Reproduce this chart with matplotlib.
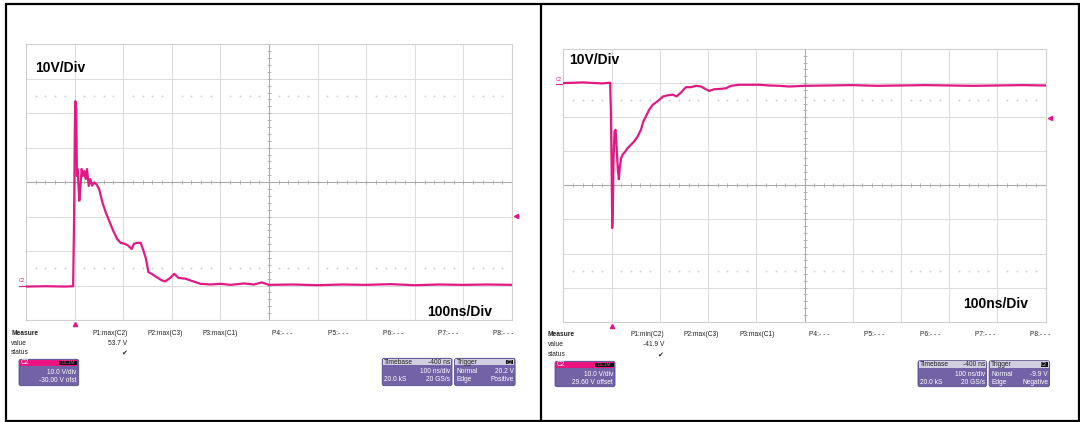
import numpy as np
import matplotlib.pyplot as plt
from matplotlib.patches import FancyBboxPatch, Rectangle
from matplotlib.transforms import blended_transform_factory

plt.rcParams['font.family'] = ['Liberation Sans', 'DejaVu Sans']

# time in ns (trigger at 0), voltage in V
left_t = [-100, -60, -20, -3, -1, 0.5, 1.4, 3.5, 4.8, 6.5, 8.3, 9.7, 11.7, 14.5,
          17.3, 20, 22.8, 25.5, 29, 32.4, 35.9, 40, 44.9, 50.4, 57.3, 64.2, 72.5,
          79.4, 87.6, 94.5, 103.5, 110.4, 117.3, 122, 129, 136, 141.5, 147, 151.8,
          158.7, 169, 179.4, 186.3, 196.7, 205, 214, 227.7, 238, 248.4, 258.8,
          279.5, 300, 321, 348.5, 369, 385, 400, 450, 500, 550, 600, 650, 700,
          750, 800, 850, 900]
left_v = [-0.3, -0.2, -0.3, -0.2, 20, 45, 53.5, 51.1, 31.8, 33.8, 28, 24.6, 28, 33.8,
          31.8, 33.2, 30.9, 33.8, 28.9, 30.9, 29, 29.9, 29.4, 28, 24.1, 21.2, 18.3,
          15.9, 13.5, 12.4, 12.1, 11.6, 10.6, 12.1, 12.4, 12.4, 10.2, 7.7, 3.9,
          3.4, 2.4, 1.5, 1.2, 2.2, 3.4, 2.2, 2.0, 1.5, 1.0, 0.5,
          0.3, 0.5, 0.2, 0.6, 0.3, 0.9, 0.2, 0.3, 0.1, 0.3, 0.2, 0.4, 0.1,
          0.3, 0.2, 0.3, 0.2]

right_t = [-100, -60, -20, -3, -1.4, 0, 0.7, 1.4, 2.8, 4.1, 6.2, 8.3, 10.4, 13.1,
           15.2, 17.3, 20, 22.8, 28.4, 33.2, 40.1, 47, 53.9, 60.9, 65.7, 71.2, 78.1,
           85.1, 92, 98.9, 107.2, 116.2, 126.6, 134.9, 143.8, 154.2, 164.6, 175,
           185.3, 195.7, 202.6, 213, 226.8, 237.2, 247.6, 264.9, 285.6, 306.4,
           327.1, 347.9, 368.6, 400, 450, 500, 550, 600, 650, 700, 750, 800, 850, 900]
right_v = [0.4, 0.6, 0.3, 0.5, -7.4, -22.1, -31.9, -42.1, -35.8, -22.1, -13.8, -13.3,
           -18.2, -25, -27.8, -24.1, -21.6, -20.6, -19.7, -18.7, -17.7, -16.7, -15.3,
           -13.3, -10.9, -9.4, -7.4, -6, -5.3, -4.5, -3.5, -3.2, -3.0, -3.5, -2.4,
           -0.8, -0.8, -0.4, -0.6, -1.4, -1.9, -1.4, -1.3, -1.1, -0.4, -0.1, -0.1,
           -0.1, -0.3, -0.4, -0.6, -0.4, -0.3, -0.2, -0.4, -0.3, -0.2, -0.3, -0.4,
           -0.3, -0.2, -0.3]

# scope settings
volts_div = 10.0
left_offset = -30.0
right_offset = 29.6
left_trig = 20.2
right_trig = -9.9
measure_labels = ['P1:max(C2)', 'P2:max(C3)', 'P3:max(C1)', 'P4:- - -',
                  'P5:- - -', 'P6:- - -', 'P7:- - -', 'P8:- - -']
right_measure_labels = ['P1:min(C2)'] + measure_labels[1:]

TRACE = '#e01a82'
PURPLE = '#7163a6'
EDGE = '#554a8c'
HEAD = '#d2cee2'
W, H = 1080, 422

fig = plt.figure(figsize=(W / 100, H / 100), dpi=100)


def px_axes(x0, y0, x1, y1):
    return fig.add_axes([x0 / W, 1 - y1 / H, (x1 - x0) / W, (y1 - y0) / H])


def scope_grid(ax, ylim):
    x0, x1 = -100, 900
    y0, y1 = ylim
    dx, dy = (x1 - x0) / 10, (y1 - y0) / 8
    ax.set_xlim(x0, x1)
    ax.set_ylim(y0, y1)
    for i in range(1, 10):
        if i != 5:
            ax.axvline(x0 + i * dx, color='#dcdcdc', lw=0.7, zorder=1)
    for j in range(1, 8):
        if j != 4:
            ax.axhline(y0 + j * dy, color='#dcdcdc', lw=0.7, zorder=1)
    xc, yc = x0 + 5 * dx, y0 + 4 * dy
    ax.axvline(xc, color='#ababab', lw=0.8, zorder=1)
    ax.axhline(yc, color='#ababab', lw=0.8, zorder=1)
    xs = np.array([x0 + k * dx / 5 for k in range(1, 50)])
    ys = np.array([y0 + k * dy / 5 for k in range(1, 40)])
    ax.plot(xs, np.full(len(xs), yc), ls='none', marker='|', ms=2.5,
            mew=0.6, color='#ababab', zorder=1)
    ax.plot(np.full(len(ys), xc), ys, ls='none', marker='_', ms=2.5,
            mew=0.6, color='#ababab', zorder=1)
    dots = xs[[k % 5 != 0 for k in range(1, 50)]]
    for yy in (yc + 2.5 * dy, yc - 2.5 * dy):
        ax.plot(dots, np.full(len(dots), yy), ls='none', marker='s', ms=0.45,
                color='#d2d2d2', zorder=1)
    ax.set_xticks([])
    ax.set_yticks([])
    for s in ax.spines.values():
        s.set_color('#cfcfcf')
        s.set_linewidth(0.8)


def draw_panel(ax, t, v, offset, trig, label_dx, vdiv_pos, tdiv_pos):
    center = -offset
    scope_grid(ax, (center - 4 * volts_div, center + 4 * volts_div))
    ax.plot(t, v, color=TRACE, lw=1.6, zorder=3, solid_joinstyle='round')
    bt = blended_transform_factory(ax.transAxes, ax.transData)
    ax.plot([-0.015, 0], [0, 0], color=TRACE, lw=0.8, transform=bt, clip_on=False)
    ax.text(label_dx, 0.8, 'C2', color=TRACE, fontsize=3.5, transform=bt,
            ha='left', va='bottom', clip_on=False)
    ax.plot([1.008], [trig], marker='<', ms=3, color=TRACE, transform=bt,
            clip_on=False)
    bt2 = blended_transform_factory(ax.transData, ax.transAxes)
    ax.plot([0], [-0.016], marker='^', ms=3, color=TRACE, transform=bt2,
            clip_on=False)
    ax.text(vdiv_pos[0], vdiv_pos[1], '10V/Div', transform=ax.transAxes,
            fontsize=10, fontweight='bold', ha='left', va='center', zorder=5)
    ax.text(tdiv_pos[0], tdiv_pos[1], '100ns/Div', transform=ax.transAxes,
            fontsize=10, fontweight='bold', ha='right', va='center', zorder=5)


axL = px_axes(26, 44.3, 512, 320)
draw_panel(axL, left_t, left_v, left_offset, left_trig, -0.014,
           (0.0185, 0.914), (0.96, 0.03))
axR = px_axes(563.3, 49, 1045.7, 321.7)
draw_panel(axR, right_t, right_v, right_offset, right_trig, -0.016,
           (0.012, 0.96), (0.963, 0.066))

# overlay in image pixels for frames and the readout boxes
ov = fig.add_axes([0, 0, 1, 1], zorder=10)
ov.set_xlim(0, W)
ov.set_ylim(H, 0)
ov.axis('off')
ov.patch.set_alpha(0)

for xs_, ys_ in [([5.5, 5.5], [3.5, 421.5]), ([5, 1080], [3.7, 3.7]),
                 ([5, 1080], [421.3, 421.3]), ([541, 541], [3.5, 421.5]),
                 ([1078.5, 1078.5], [3.5, 421.5])]:
    ov.plot(xs_, ys_, color='black', lw=1.6, solid_capstyle='butt')

FS = 4.8


def txt(x, y, s, ha='left', color='#222222', **kw):
    ov.text(x, y, s, ha=ha, va='center', fontsize=FS, color=color, **kw)


def box(x0, y0, x1, y1, head_color):
    ov.add_patch(FancyBboxPatch((x0, y0), x1 - x0, y1 - y0,
                                boxstyle='round,pad=0,rounding_size=2',
                                fc=PURPLE, ec=EDGE, lw=0.6))
    ov.add_patch(Rectangle((x0 + 0.7, y0 + 0.7), x1 - x0 - 1.4, 6.2,
                           fc=head_color, ec='none'))


def badge(x0, x1, y0, s, color):
    ov.add_patch(Rectangle((x0, y0 + 1.4), x1 - x0, 4.6, fc='#111111', ec='none'))
    ov.text((x0 + x1) / 2, y0 + 3.7, s, ha='center', va='center', fontsize=3.4,
            color=color)


def readout(px, meas_y, labels, value, ch_box, offset_txt, tb_box, trig_txt):
    mx = px + 11
    txt(mx, meas_y, 'Measure', fontweight='bold')
    txt(mx, meas_y + 10, 'value')
    txt(mx, meas_y + 19.5, 'status')
    for k, lab in enumerate(labels):
        txt(px + 127.4 + 55.2 * k, meas_y, lab, ha='right')
    txt(px + 127.4, meas_y + 10, value, ha='right')
    ov.text(px + 124, meas_y + 19.5, '\u2714', ha='center', va='center',
            fontsize=5, color='#222222', family='DejaVu Sans')

    x0, y0, x1, y1 = ch_box
    box(x0, y0, x1, y1, '#ea1480')
    txt(x0 + 2, y0 + 3.7, 'C2', color='white')
    badge(x1 - 20, x1 - 1.5, y0, 'DC1M', '#e24c93')
    txt(x1 - 2, y0 + 13.4, '10.0 V/div', ha='right', color='white')
    txt(x1 - 2, y0 + 21.4, offset_txt, ha='right', color='white')

    x0, y0, x1, y1 = tb_box
    box(x0, y0, x1, y1, HEAD)
    txt(x0 + 2, y0 + 3.7, 'Timebase')
    txt(x1 - 1.5, y0 + 3.7, '-400 ns', ha='right')
    txt(x1 - 1.5, y0 + 13.4, '100 ns/div', ha='right', color='white')
    txt(x0 + 2, y0 + 21.4, '20.0 kS', color='white')
    txt(x1 - 1.5, y0 + 21.4, '20 GS/s', ha='right', color='white')

    tx0 = x1 + 2.6
    tx1 = tx0 + 60.5
    box(tx0, y0, tx1, y1, HEAD)
    txt(tx0 + 2, y0 + 3.7, 'Trigger')
    badge(tx1 - 9, tx1 - 1.8, y0, 'C2', '#cccccc')
    txt(tx0 + 2, y0 + 13.4, 'Normal', color='white')
    txt(tx1 - 1.5, y0 + 13.4, trig_txt[0], ha='right', color='white')
    txt(tx0 + 2, y0 + 21.4, 'Edge', color='white')
    txt(tx1 - 1.5, y0 + 21.4, trig_txt[1], ha='right', color='white')


readout(0, 333.3, measure_labels, '53.7 V', (19, 359.3, 78.7, 385.7),
        '-30.00 V ofst', (382.2, 358.3, 452, 385.7), ('20.2 V', 'Positive'))
readout(536.6, 335, right_measure_labels, '-41.9 V', (555, 361.3, 615, 386.7),
        '29.60 V offset', (918, 360.7, 986.5, 386.7), ('-9.9 V', 'Negative'))

fig.savefig('out.png', dpi=100)
